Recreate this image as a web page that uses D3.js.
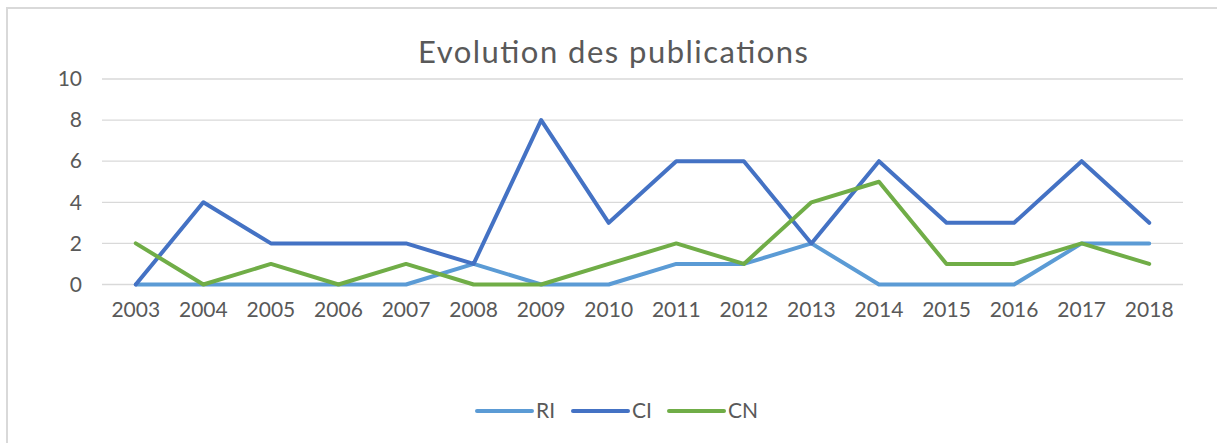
<!DOCTYPE html>
<html>
<head>
<meta charset="utf-8">
<script src="https://cdn.jsdelivr.net/npm/d3@7"></script>
<style>
  body { margin: 0; background: #fff; }
  text { font-family: Lato, "Open Sans", sans-serif; fill: #595959; }
</style>
</head>
<body>
<div id="chart"></div>
<script>
"use strict";

const years = ["2003","2004","2005","2006","2007","2008","2009","2010",
               "2011","2012","2013","2014","2015","2016","2017","2018"];
const ri = [0,0,0,0,0,1,0,0,1,1,2,0,0,0,2,2];
const ci = [0,4,2,2,2,1,8,3,6,6,2,6,3,3,6,3];
const cn = [2,0,1,0,1,0,0,1,2,1,4,5,1,1,2,1];
const yTicks = [0,2,4,6,8,10];

const series = [
  {name: "RI", values: ri, color: "#5B9BD5"},
  {name: "CI", values: ci, color: "#4472C4"},
  {name: "CN", values: cn, color: "#70AD47"}
];

const W = 1217, H = 443;
const svg = d3.select("#chart").append("svg")
  .attr("width", W).attr("height", H);

// chart frame (runs off the right and bottom edges)
svg.append("rect")
  .attr("x", 7).attr("y", 8)
  .attr("width", W + 10).attr("height", H + 10)
  .attr("fill", "#fff").attr("stroke", "#d9d9d9").attr("stroke-width", 2);

svg.append("text")
  .attr("x", 613).attr("y", 63)
  .attr("text-anchor", "middle")
  .attr("textLength", 390)
  .attr("lengthAdjust", "spacing")
  .style("font-size", "31px")
  .text("Evolution des publications");

const x = d3.scaleBand().domain(years).range([102, 1183]);
const y = d3.scaleLinear().domain([0, 10]).range([284.5, 79]);

// gridlines
svg.append("g").selectAll("line").data(yTicks).join("line")
  .attr("x1", 102).attr("x2", 1183)
  .attr("y1", d => y(d)).attr("y2", d => y(d))
  .attr("stroke", "#d9d9d9").attr("stroke-width", 1.3);

const yAxis = svg.append("g")
  .attr("transform", "translate(102,0)")
  .call(d3.axisLeft(y).tickValues(yTicks).tickSize(0).tickPadding(20));
yAxis.select(".domain").remove();
yAxis.selectAll("text").style("font-size", "21px").attr("fill", "#595959");

const xAxis = svg.append("g")
  .attr("transform", "translate(0,284.5)")
  .call(d3.axisBottom(x).tickSize(0).tickPadding(18));
xAxis.select(".domain").remove();
xAxis.selectAll("text").style("font-size", "21px").attr("fill", "#595959");

const line = d3.line()
  .x((d, i) => x(years[i]) + x.bandwidth() / 2)
  .y(d => y(d));

svg.append("g").selectAll("path").data(series).join("path")
  .attr("d", s => line(s.values))
  .attr("fill", "none")
  .attr("stroke", s => s.color)
  .attr("stroke-width", 4)
  .attr("stroke-linejoin", "round")
  .attr("stroke-linecap", "round");

// legend
const legendX = [477, 573, 669];
const lg = svg.append("g").selectAll("g").data(series).join("g")
  .attr("transform", (s, i) => `translate(${legendX[i]},411)`);
lg.append("line")
  .attr("x1", 0).attr("x2", 55)
  .attr("stroke", s => s.color).attr("stroke-width", 4)
  .attr("stroke-linecap", "round");
lg.append("text")
  .attr("x", 59).attr("dy", "0.35em")
  .style("font-size", "21px")
  .text(s => s.name);
</script>
</body>
</html>
